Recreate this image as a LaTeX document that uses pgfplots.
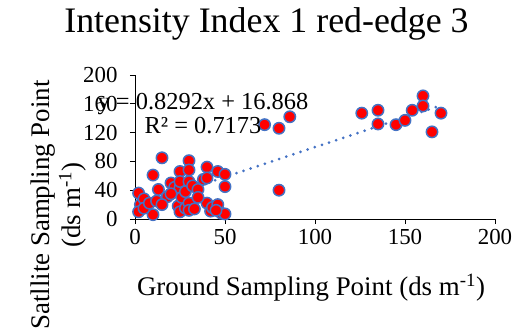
\documentclass[border=0pt]{standalone}
\usepackage{pgfplots}
\pgfplotsset{compat=1.18}
\usepackage{fontspec}
\setmainfont{Liberation Serif}
\definecolor{exblue}{HTML}{4472C4}
\definecolor{exred}{HTML}{FF0000}
\begin{document}
\begin{tikzpicture}
\path[use as bounding box] (-135bp,-111bp) rectangle (389bp,219bp);
\begin{axis}[
  at={(0,0)}, anchor=south west,
  scale only axis, width=360bp, height=144bp,
  xmin=0, xmax=200, ymin=0, ymax=200,
  axis lines*=left,
  xtick={0,50,...,200}, ytick={0,40,...,200},
  tick align=outside, major tick length=5bp,
  tick style={black, line width=1pt},
  axis line style={black, line width=1pt},
  /pgf/number format/assume math mode=true,
  ticklabel style={font=\fontsize{23}{26}\selectfont},
  yticklabel style={xshift=-9bp},
  xticklabel style={yshift=-2bp},
  clip=false,
]
\addplot[only marks, mark=*, mark size=5.7bp, mark options={fill=exred, draw=exblue, line width=1.5bp}] coordinates {
(2,36) (3,20) (2,10) (10,6) (5,28) (5,15) (8,22) (12,25) (10,61) (13,41) (15,85) (18,31)
(20,50) (22,44) (25,43) (25,66) (25,52) (24,18) (25,10) (26,30) (28,15) (28,38)
(30,81) (30,68) (30,52) (30,22) (30,12) (32,46) (35,41) (38,55) (40,72) (40,57)
(40,22) (42,11) (43,16) (46,66) (46,20) (48,8) (50,62) (50,45) (50,7) (45,12)
(20,35) (15,20) (35,30) (33,14)
(72,131) (80,126) (86,142) (80,40)
(126,147) (135,151) (135,132) (145,131) (150,137) (154,151) (160,171) (160,157) (170,147) (165,121)
};
\addplot[exblue, line width=3bp, line cap=round, dash pattern=on 0pt off 7.5bp] coordinates {(1,17.7) (170,157.83)};
\end{axis}
\node[font=\fontsize{36}{40}\selectfont] at (131.5bp,195bp) {Intensity Index 1 red-edge 3};
\node[font=\fontsize{27}{30}\selectfont, anchor=base] at (176bp,-76bp) {Ground Sampling Point (ds m\textsuperscript{-1})};
\node[font=\fontsize{27}{31}\selectfont, rotate=90, align=center] at (-76.5bp,14bp) {Satllite Sampling Point\\(ds m\textsuperscript{-1})};
\node[font=\fontsize{24.5}{24}\selectfont, align=center] at (68bp,105bp) {y = 0.8292x + 16.868\\R² = 0.7173};
\end{tikzpicture}
\end{document}
